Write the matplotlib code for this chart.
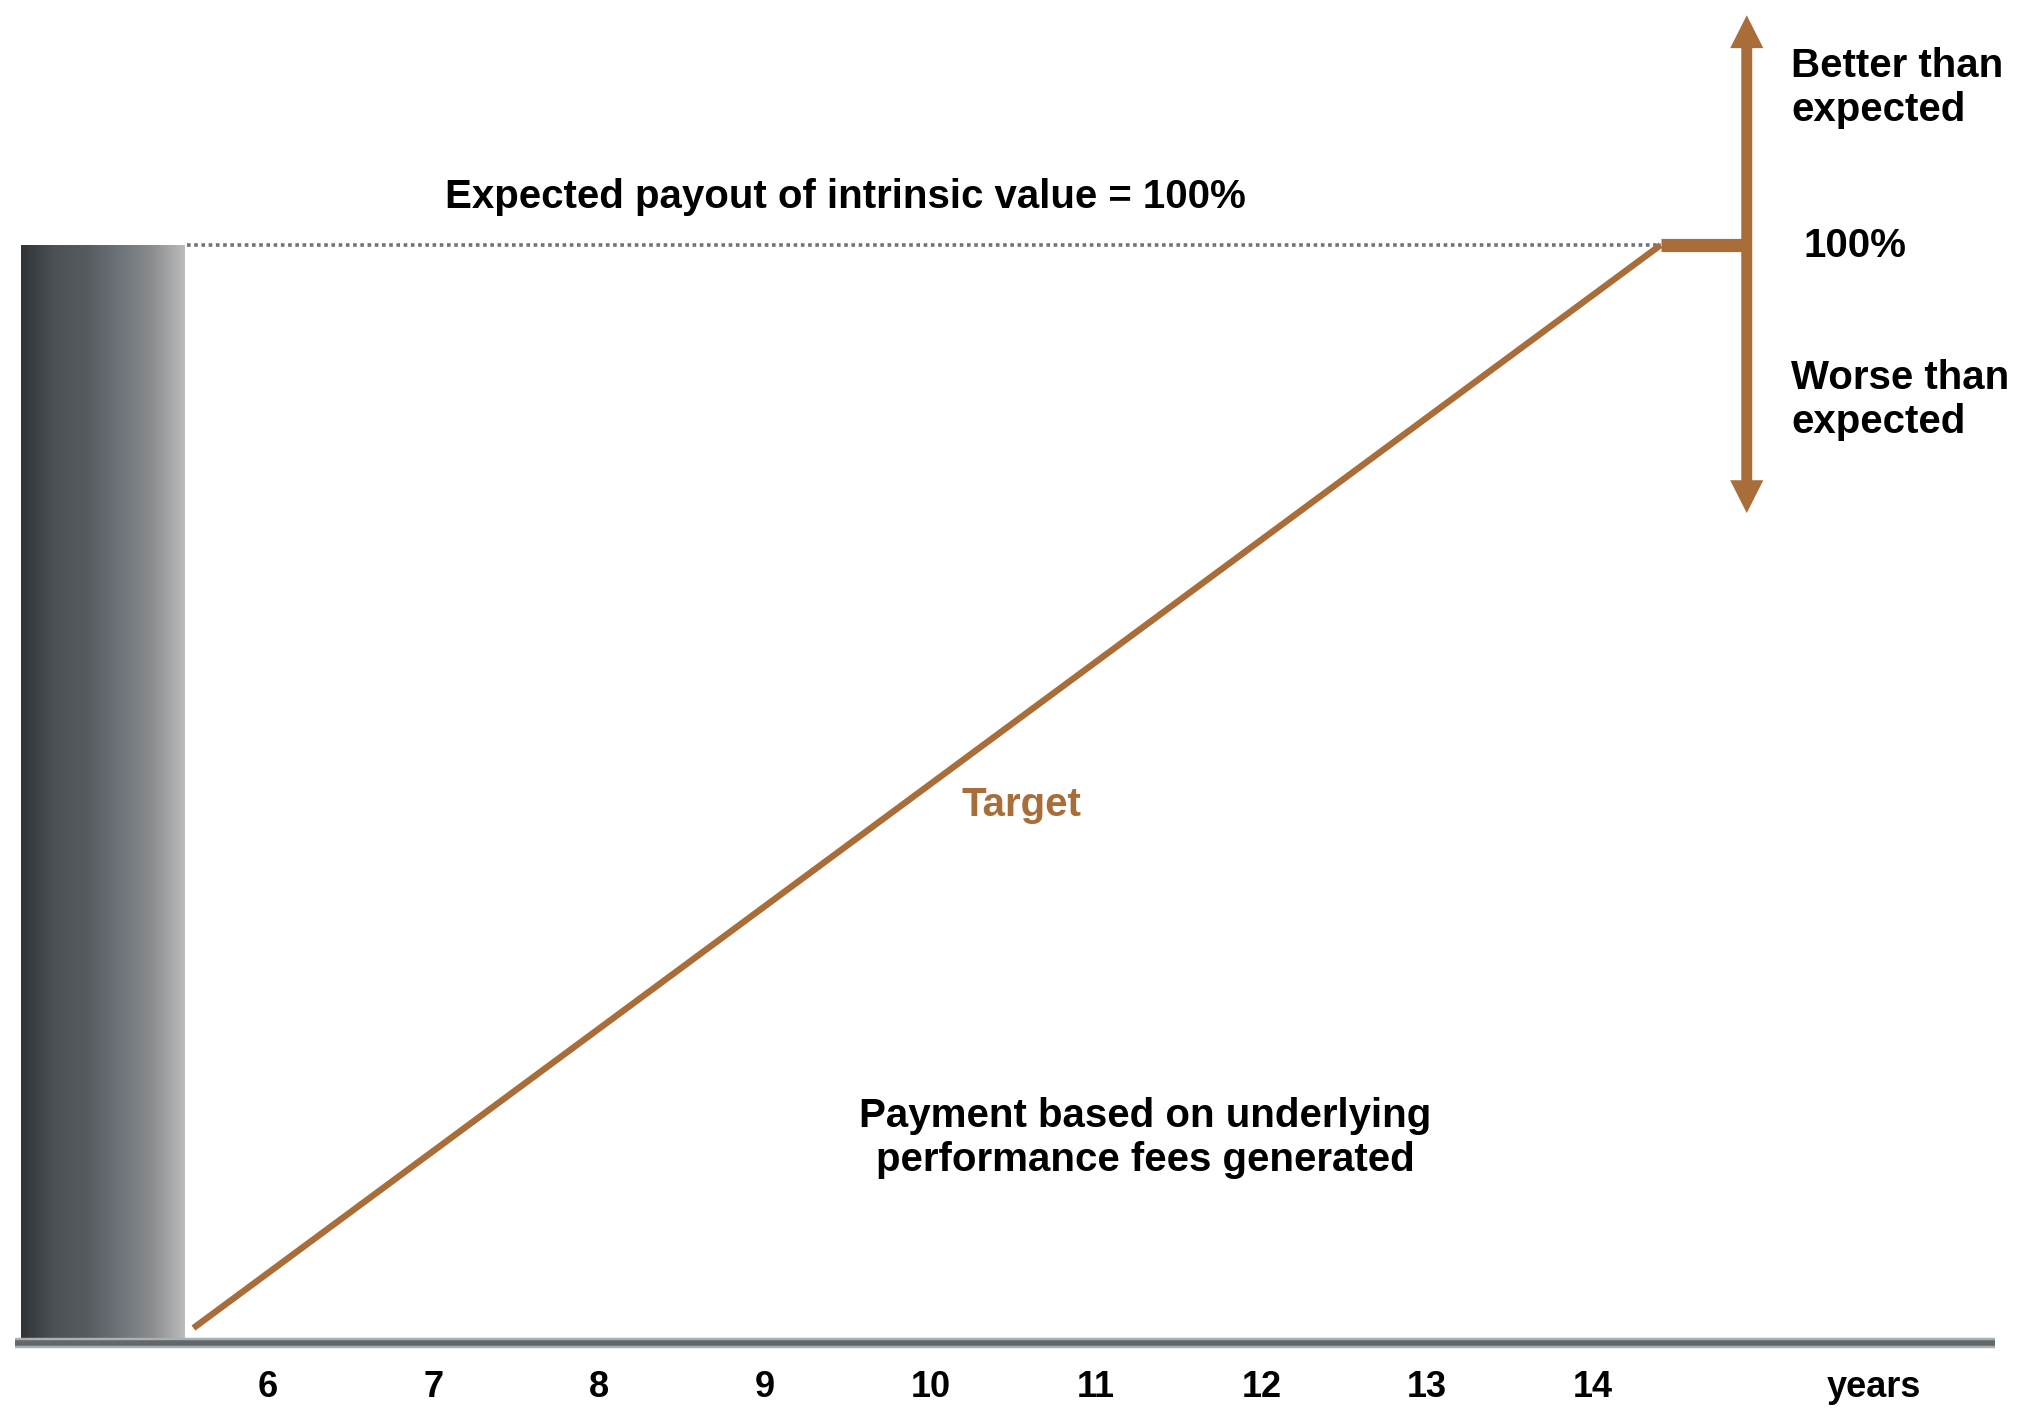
import numpy as np
import matplotlib
matplotlib.use("Agg")
import matplotlib.pyplot as plt
from matplotlib.colors import LinearSegmentedColormap

plt.rcParams['font.family'] = ['Liberation Sans', 'DejaVu Sans']
plt.rcParams['font.weight'] = 'bold'

# data
years = [6, 7, 8, 9, 10, 11, 12, 13, 14]
year_labels = ['6', '7', '8', '9', '10', '11', '12', '13', '14']
expected = 100
target_x = [5.55, 14.41]
target_y = [1, 100]
plateau_x = [14.41, 14.93]
arrow_x = 14.93
arrow_top = 121
arrow_bottom = 75.5
bar_x = [4.51, 5.50]

brown = '#a86d38'

fig = plt.figure(figsize=(20.19, 14.09), dpi=100)
ax = fig.add_axes([0, 0, 1, 1])
ax.set_xlim(4.382, 16.574)
ax.set_ylim(-6.4, 122.4)
ax.axis('off')

# grey gradient block on the left
cmap = LinearSegmentedColormap.from_list(
    'bar', ['#303437', '#4c5156', '#565b60', '#6c7379', '#8a8c8e', '#bcbcbc'])
grad = np.linspace(0, 1, 256).reshape(1, -1)
ax.imshow(grad, cmap=cmap, aspect='auto', extent=[bar_x[0], bar_x[1], 0, expected],
          zorder=1)

# baseline
ax.plot([4.47, 16.43], [-0.37, -0.37], color='#aab0b3', lw=7.5, solid_capstyle='butt', zorder=2)
ax.plot([4.47, 16.43], [-0.37, -0.37], color='#63686b', lw=4, solid_capstyle='butt', zorder=3)

# dotted expected line
ax.plot([bar_x[1] + 0.01, target_x[1]], [expected, expected], color='#6f7479',
        lw=2.6, linestyle=(0, (1, 1)), zorder=2)

# target line
ax.plot(target_x, target_y, color=brown, lw=4.6, solid_capstyle='butt', zorder=4)
ax.plot(plateau_x, [expected, expected], color=brown, lw=9.5, solid_capstyle='butt', zorder=4)

# double arrow
mid = expected
ax.arrow(arrow_x, mid, 0, arrow_top - mid, width=0.066, head_width=0.2, head_length=3.0,
         length_includes_head=True, color=brown, lw=0, zorder=5)
ax.arrow(arrow_x, mid, 0, arrow_bottom - mid, width=0.066, head_width=0.2, head_length=3.0,
         length_includes_head=True, color=brown, lw=0, zorder=5)

# x labels
for yr, lab in zip(years, year_labels):
    ax.text(yr, -4.4, lab, ha='center', va='center', fontsize=26, color='black')
ax.text(15.7, -4.4, 'years', ha='center', va='center', fontsize=26, color='black')

# annotations
fs = 29
ax.text(9.49, 104.4, 'Expected payout of intrinsic value = 100%', ha='center', va='center',
        fontsize=fs)
ax.text(15.2, 114.4, 'Better than\nexpected', ha='left', va='center', fontsize=fs,
        linespacing=1.2)
ax.text(15.27, 99.9, '100%', ha='left', va='center', fontsize=fs)
ax.text(15.2, 85.8, 'Worse than\nexpected', ha='left', va='center', fontsize=fs,
        linespacing=1.2)
ax.text(10.55, 48.8, 'Target', ha='center', va='center', fontsize=fs, color=brown)
ax.text(11.30, 18.4, 'Payment based on underlying\nperformance fees generated', ha='center',
        va='center', fontsize=fs, linespacing=1.2)

fig.savefig('out.png', dpi=100)
